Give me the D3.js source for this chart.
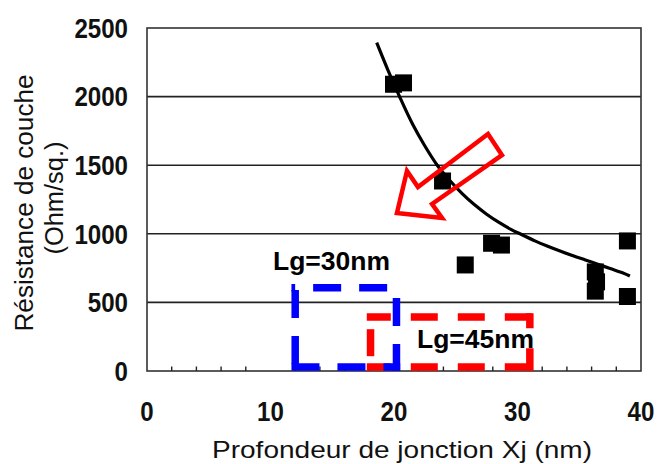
<!DOCTYPE html>
<html>
<head>
<meta charset="utf-8">
<script src="https://cdn.jsdelivr.net/npm/d3@7"></script>
<style>
  html, body { margin: 0; padding: 0; background: #fff; }
  svg { display: block; }
  text { font-family: "Liberation Sans", Arial, sans-serif; }
</style>
</head>
<body>
<svg id="chart" width="658" height="464"></svg>
<script>
// ---- data ----
const xTickValues = [0, 10, 20, 30, 40];
const yTickValues = [0, 500, 1000, 1500, 2000, 2500];
const minorXTicks = [2, 4, 6, 8, 12, 14, 16, 18, 22, 24, 26, 28, 32, 34, 36, 38];

// measured points: junction depth Xj (nm) vs sheet resistance (Ohm/sq.)
const xjValues = [19.96, 20.77, 23.93, 25.77, 27.9, 28.7, 36.3, 36.4, 36.3, 38.9, 38.9];
const rsValues = [2090, 2100, 1385, 773, 931, 918, 722, 650, 582, 948, 543];

// fitted trend curve
const fitX = [18.6, 19.5, 20.45, 21.5, 22.5, 23.5, 24.5, 25.5, 26.5, 27.5, 28.5, 29.5, 30.2, 31.5, 32.5, 33.5, 34.5, 35.5, 36.5, 37.5, 38.5, 39.1];
const fitY = [2393, 2195, 2000, 1800, 1640, 1500, 1390, 1295, 1213, 1143, 1083, 1031, 1000, 945, 908, 873, 840, 809, 778, 747, 716, 692];

// annotation arrow outline (in data units)
const arrowX = [27.61, 28.74, 23.08, 23.89, 20.24, 21.05, 21.94];
const arrowY = [1727, 1574, 1217, 1115, 1152, 1458, 1341];

// Lg windows (xmin, xmax, ymin, ymax) in data units
const windowLabels = ["Lg=30nm", "Lg=45nm"];
const windowX0 = [12.0, 18.1];
const windowX1 = [20.2, 31.0];
const windowY0 = [29, 29];
const windowY1 = [607, 394];
const windowLabelX = [10.2, 21.86];
const windowLabelY = [736, 168];

const xTitle = "Profondeur de jonction Xj (nm)";
const yTitle1 = "Résistance de couche";
const yTitle2 = "(Ohm/sq.)";

// ---- layout ----
const svg = d3.select("#chart");
const pLeft = 147, pRight = 641, pTop = 28, pBottom = 371;
const x = d3.scaleLinear().domain([0, 40]).range([pLeft, pRight]);
const y = d3.scaleLinear().domain([0, 2500]).range([pBottom, pTop]);

// gridlines
svg.append("g").selectAll("line")
  .data(yTickValues.filter(v => v > 0 && v < 2500))
  .join("line")
  .attr("x1", pLeft).attr("x2", pRight)
  .attr("y1", d => y(d)).attr("y2", d => y(d))
  .attr("stroke", "#222").attr("stroke-width", 1.6);

// plot border
svg.append("rect")
  .attr("x", pLeft).attr("y", pTop)
  .attr("width", pRight - pLeft).attr("height", pBottom - pTop)
  .attr("fill", "none").attr("stroke", "#333").attr("stroke-width", 1.6);

// minor ticks on bottom axis (pointing inside)
svg.append("g").selectAll("line")
  .data(minorXTicks)
  .join("line")
  .attr("x1", d => x(d)).attr("x2", d => x(d))
  .attr("y1", pBottom).attr("y2", pBottom - 4.5)
  .attr("stroke", "#222").attr("stroke-width", 1.4);

// Lg windows: each side drawn as its own dashed segment
const sw = 7.5, h = sw / 2;
function dashedBox(i, color, dash, starts) {
  const x0 = x(windowX0[i]), x1 = x(windowX1[i]);
  const y0 = y(windowY1[i]), y1 = y(windowY0[i]);
  const sides = [
    [x0 - h, y0, x1 + h, y0],   // top, left to right
    [x1, y0 - h, x1, y1 + h],   // right, top to bottom
    [x0 - h, y1, x1 + h, y1],   // bottom, left to right
    [x0, y0 - h, x0, y1 + h]    // left, top to bottom
  ];
  const g = svg.append("g");
  sides.forEach((s, k) => {
    g.append("line")
      .attr("x1", s[0]).attr("y1", s[1]).attr("x2", s[2]).attr("y2", s[3])
      .attr("stroke", color).attr("stroke-width", sw)
      .attr("stroke-dasharray", dash)
      .attr("stroke-dashoffset", -starts[k]);
  });
}
dashedBox(1, "#ff0000", "27,20", [-3, -12, -3, 16]);
dashedBox(0, "#0000ff", "28,18", [21.7, 14, 0, 6]);

// fit curve
const line = d3.line().curve(d3.curveCatmullRom.alpha(0.5))
  .x(d => x(d[0])).y(d => y(d[1]));
svg.append("path")
  .datum(fitX.map((v, i) => [v, fitY[i]]))
  .attr("d", line)
  .attr("fill", "none").attr("stroke", "#000").attr("stroke-width", 3.2);

// data squares
const sq = 17;
svg.append("g").selectAll("rect")
  .data(xjValues.map((v, i) => [v, rsValues[i]]))
  .join("rect")
  .attr("x", d => x(d[0]) - sq / 2).attr("y", d => y(d[1]) - sq / 2)
  .attr("width", sq).attr("height", sq)
  .attr("fill", "#000");

// arrow
svg.append("polygon")
  .attr("points", arrowX.map((v, i) => [x(v), y(arrowY[i])].join(",")).join(" "))
  .attr("fill", "none").attr("stroke", "#ff0000")
  .attr("stroke-width", 4.5).attr("stroke-linejoin", "miter");

// window labels
svg.append("g").selectAll("text")
  .data(windowLabels)
  .join("text")
  .attr("x", (d, i) => x(windowLabelX[i]))
  .attr("y", (d, i) => y(windowLabelY[i]))
  .attr("font-size", 25).attr("font-weight", "bold")
  .attr("textLength", 117).attr("lengthAdjust", "spacingAndGlyphs")
  .attr("fill", "#000")
  .text(d => d);

// y tick labels
svg.append("g").selectAll("text")
  .data(yTickValues)
  .join("text")
  .attr("x", 128).attr("y", d => y(d))
  .attr("dy", "0.36em")
  .attr("text-anchor", "end")
  .attr("font-size", 27).attr("font-weight", "bold")
  .attr("textLength", d => String(d).length * 13.4)
  .attr("lengthAdjust", "spacingAndGlyphs")
  .attr("fill", "#111")
  .text(d => d);

// x tick labels
svg.append("g").selectAll("text")
  .data(xTickValues)
  .join("text")
  .attr("x", d => x(d)).attr("y", 411)
  .attr("dy", "0.36em")
  .attr("text-anchor", "middle")
  .attr("font-size", 27).attr("font-weight", "bold")
  .attr("textLength", d => String(d).length * 13.4)
  .attr("lengthAdjust", "spacingAndGlyphs")
  .attr("fill", "#111")
  .text(d => d);

// x title
svg.append("text")
  .attr("x", 402).attr("y", 458)
  .attr("text-anchor", "middle")
  .attr("font-size", 24)
  .attr("textLength", 380).attr("lengthAdjust", "spacingAndGlyphs")
  .attr("fill", "#111")
  .text(xTitle);

// y title (two lines, rotated)
svg.append("text")
  .attr("transform", "translate(33,203) rotate(-90)")
  .attr("text-anchor", "middle")
  .attr("font-size", 26)
  .attr("textLength", 257).attr("lengthAdjust", "spacingAndGlyphs")
  .attr("fill", "#111")
  .text(yTitle1);
svg.append("text")
  .attr("transform", "translate(63,198) rotate(-90)")
  .attr("text-anchor", "middle")
  .attr("font-size", 26)
  .attr("textLength", 113).attr("lengthAdjust", "spacingAndGlyphs")
  .attr("fill", "#111")
  .text(yTitle2);
</script>
</body>
</html>
